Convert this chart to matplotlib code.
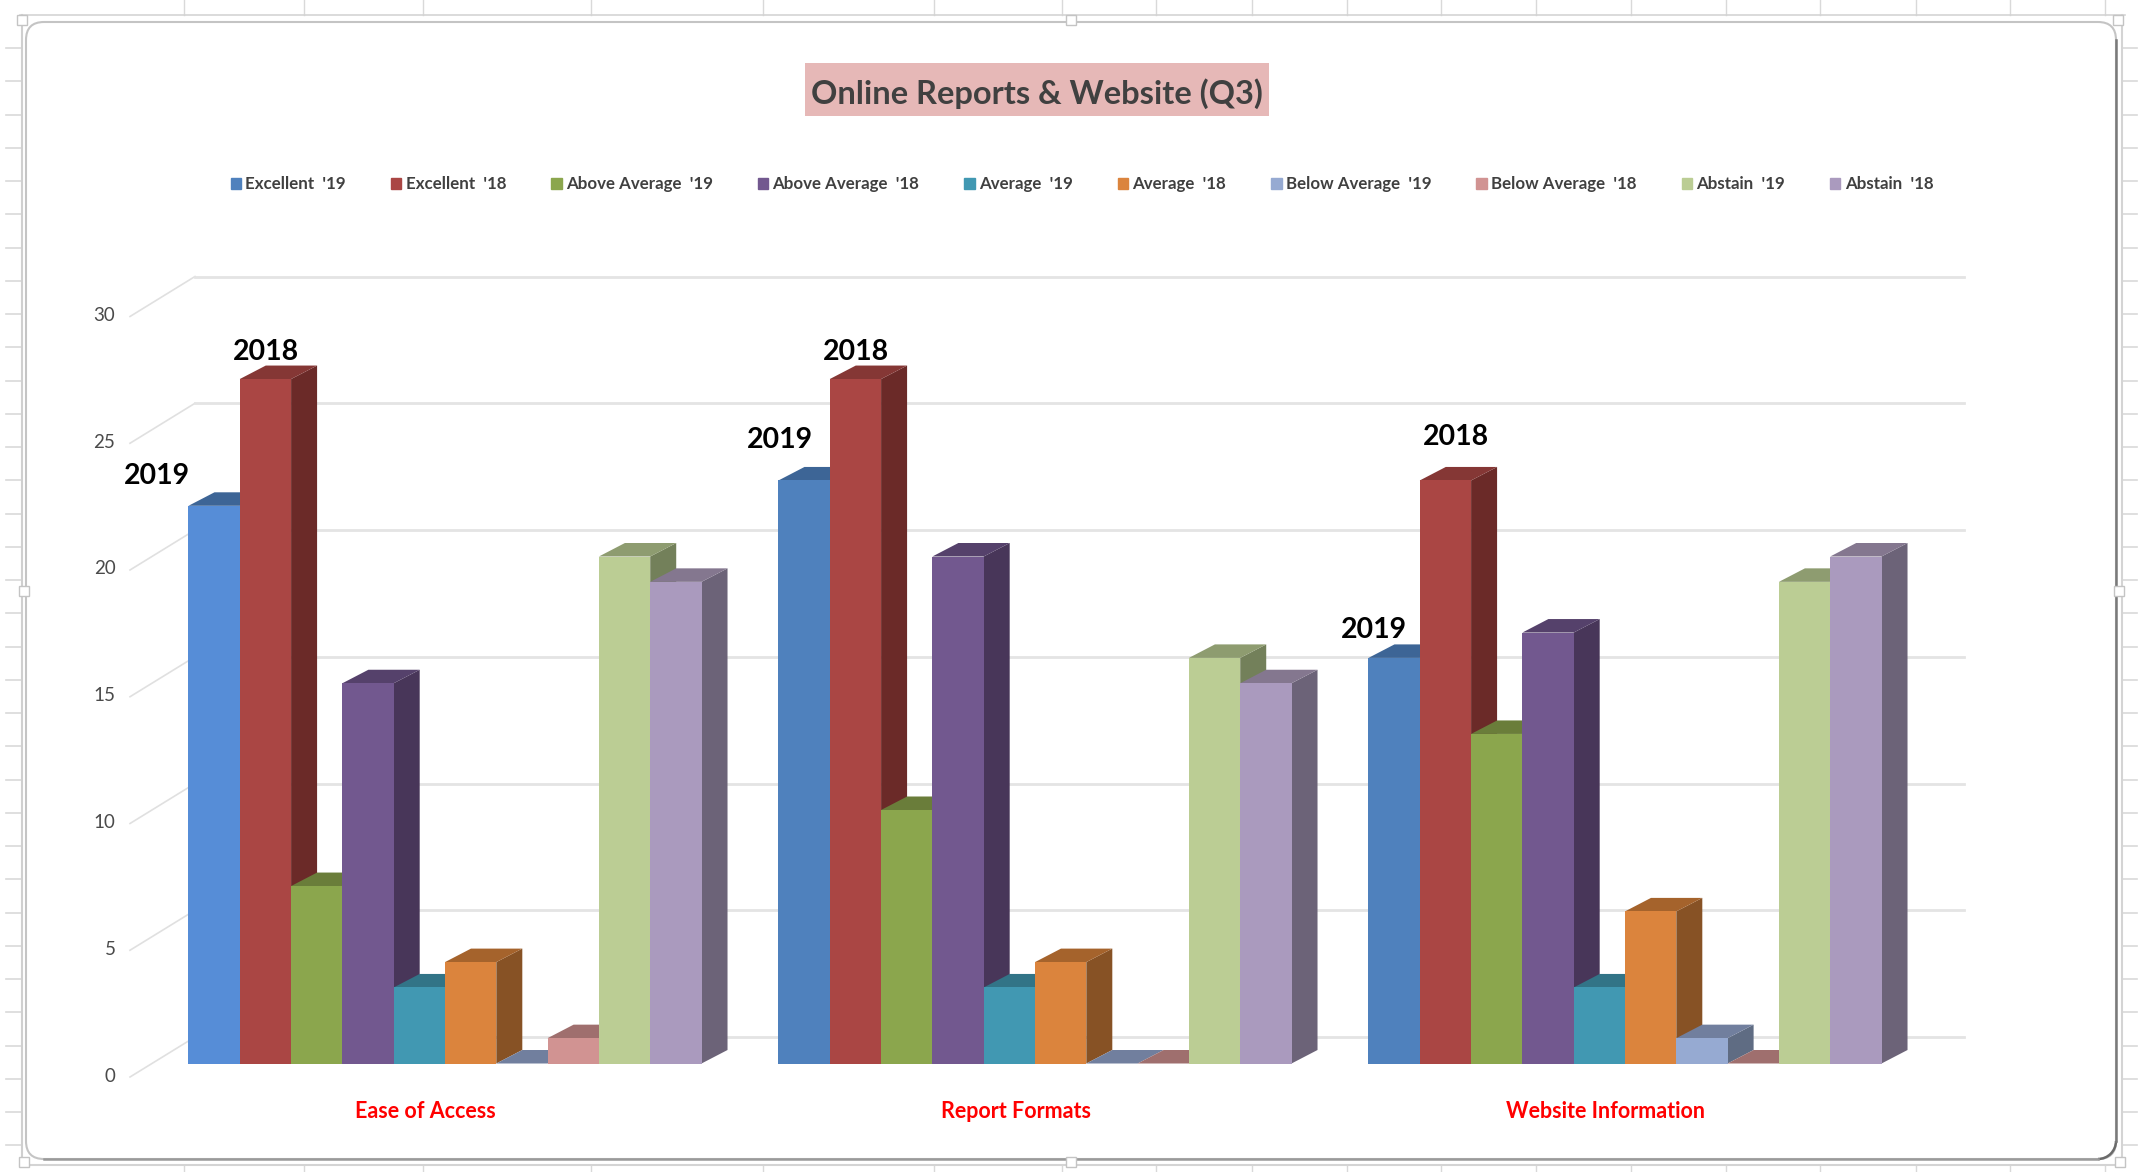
import matplotlib
matplotlib.use("Agg")
import matplotlib.pyplot as plt
from matplotlib.patches import FancyBboxPatch, Rectangle, Patch, Arc

# ---------- data ----------
categories = ["Ease of Access", "Report Formats", "Website Information"]
series = ["Excellent  '19", "Excellent  '18", "Above Average  '19", "Above Average  '18",
          "Average  '19", "Average  '18", "Below Average  '19", "Below Average  '18",
          "Abstain  '19", "Abstain  '18"]
excellent_19 = [22, 23, 16]
excellent_18 = [27, 27, 23]
above_19 = [7, 10, 13]
above_18 = [15, 20, 17]
average_19 = [3, 3, 3]
average_18 = [4, 4, 6]
below_19 = [0, 0, 1]
below_18 = [1, 0, 0]
abstain_19 = [20, 16, 19]
abstain_18 = [19, 15, 20]
values = [excellent_19, excellent_18, above_19, above_18, average_19, average_18,
          below_19, below_18, abstain_19, abstain_18]
y_ticks = [0, 5, 10, 15, 20, 25, 30]

front = ["#4F81BD", "#AA4644", "#8BA64D", "#72588F", "#4198B2", "#DB843D",
         "#96AAD2", "#D19392", "#BBCD94", "#AA9ABE"]
top = ["#3D6596", "#853735", "#6A7D3A", "#55416B", "#327487", "#A5632C",
       "#717F9E", "#9F6F6E", "#8E9C70", "#84778F"]
side = ["#2F4F75", "#6B2A28", "#556630", "#483659", "#285E6E", "#875225",
        "#5F6C83", "#7F5655", "#73805A", "#6C6378"]
first_group_blue = "#568DD7"

# ---------- layout helpers ----------
W, H = 2144, 1172
pitch = 590.0          # pixels per category
unit = 25.35           # pixels per value unit
base_y = 1063.5
cx0 = 445.0
L, R, B, T = 130, 1964, 1077, 250

plt.rcParams["font.family"] = ["Lato", "DejaVu Sans"]
fig = plt.figure(figsize=(W / 100, H / 100), dpi=100, facecolor="white")

# ---------- sheet / frame decoration ----------
bg = fig.add_axes([0, 0, 1, 1], zorder=0)
bg.set_xlim(0, W); bg.set_ylim(H, 0); bg.axis("off")
xt = [184, 304, 423, 591, 763, 934, 1062, 1156, 1252, 1347, 1441, 1536, 1631, 1726, 1820, 1916, 2010, 2105]
yt = [48 + 33.25 * i for i in range(34)]
for x in xt:
    bg.plot([x, x], [0, 15], color="#d9d9d9", lw=1)
    bg.plot([x, x], [1166, H], color="#d9d9d9", lw=1)
for y in yt:
    bg.plot([6, 21], [y, y], color="#d9d9d9", lw=1.2)
    bg.plot([2122, 2137], [y, y], color="#d9d9d9", lw=1.2)
bg.plot([20, 2125], [15, 15], color="#d4d4d4", lw=1.2)
bg.plot([20, 2125], [1165, 1165], color="#d4d4d4", lw=1.5)
bg.plot([22, 22], [15, 1165], color="#cfcfcf", lw=1.5)
bg.plot([2122, 2122], [15, 1165], color="#d4d4d4", lw=1.5)
bg.add_patch(FancyBboxPatch((26, 22), 2090, 1137, boxstyle="round,pad=0,rounding_size=18",
                            fc="white", ec="#c4c4c4", lw=1.5))
bg.plot([2116, 2116], [40, 1141], color="#7a7a7a", lw=1.8)
bg.plot([44, 2098], [1159, 1159], color="#9a9a9a", lw=1.8)
bg.add_patch(Arc((2098, 1141), 36, 36, theta1=0, theta2=90, color="#6a6a6a", lw=1.8))
for hx, hy in [(22, 20), (1071, 20), (2118, 20), (24, 591), (2119, 591), (24, 1162), (1071, 1162), (2120, 1162)]:
    bg.add_patch(Rectangle((hx - 5, hy - 5), 10, 10, fc="white", ec="#c4c4c4", lw=1, zorder=5))

# ---------- chart axes ----------
ax = fig.add_axes([L / W, 1 - B / H, (R - L) / W, (B - T) / H], zorder=1)
ax.patch.set_alpha(0)
ax.set_xlim((L - cx0) / pitch, (R - cx0) / pitch)
ax.set_ylim((base_y - B) / unit, (base_y - T) / unit)
for s in ax.spines.values():
    s.set_visible(False)

bar_w = 1 / 11.5
depth_x = 26.0 / pitch
depth_y = 13.5 / unit
front_off = (base_y - 1077) / unit
wall_off = (base_y - 1037) / unit
label_off = (base_y - 1074.5) / unit
x_left = (L - cx0) / pitch
x_wall = (195 - cx0) / pitch
x_right = (R - cx0) / pitch

for v in y_ticks:
    ax.plot([x_left, x_wall], [v + front_off, v + wall_off], color="#e0e0e0", lw=1.2, zorder=1, clip_on=False)
    ax.plot([x_wall, x_right], [v + wall_off, v + wall_off], color="#e4e4e4", lw=2.0, zorder=1, clip_on=False)

ax.set_yticks([v + label_off for v in y_ticks], [str(v) for v in y_ticks],
              fontsize=13.5, color="#4a4a4a")
ax.tick_params(axis="y", length=0, pad=10.5)
ax.set_xticks([g - 0.0325 for g in range(len(categories))], categories,
              fontsize=15.5, fontweight="bold", color="#ff0000")
ax.tick_params(axis="x", length=0, pad=17)

z = 2
for g in range(len(categories)):
    for j, vals in enumerate(values):
        v = vals[g]
        x0 = g + (j - 5) * bar_w
        x1 = x0 + bar_w
        fc = first_group_blue if (g == 0 and j == 0) else front[j]
        ax.fill([x1, x1 + depth_x, x1 + depth_x, x1],
                [0, depth_y, v + depth_y, v], color=side[j], lw=0, zorder=z)
        ax.fill([x0, x0 + depth_x, x1 + depth_x, x1],
                [v, v + depth_y, v + depth_y, v], color=top[j], lw=0, zorder=z)
        if v > 0:
            ax.bar(x0, v, width=bar_w, align="edge", color=fc, lw=0, zorder=z + 0.5)
        z += 1

# year call-outs above the bars
year_notes = [("2019", 0, -0.489, 23.19), ("2018", 0, -0.3035, 28.07),
              ("2019", 1, -0.432, 24.61), ("2018", 1, -0.303, 28.06),
              ("2019", 2, -0.425, 17.11), ("2018", 2, -0.286, 24.71)]
for txt, g, dx, y in year_notes:
    ax.text(g + dx, y, txt, fontsize=20.5, fontweight="bold", color="black",
            ha="center", va="center", zorder=200)

# title
bg.add_patch(Rectangle((805, 63), 464, 53, fc="#E6B8B7", ec="none", zorder=4))
fig.text(1037 / W, 1 - 93.5 / H, "Online Reports & Website (Q3)", fontsize=23.5, fontweight="bold",
         color="#404040", ha="center", va="center", zorder=5)

# legend
handles = [Patch(color=c, label=s) for c, s in zip(front, series)]
leg = fig.legend(handles=handles, loc="center", bbox_to_anchor=(1082 / W, 1 - 184 / H), ncols=10,
                 frameon=False, fontsize=12.2, handlelength=0.62, handleheight=0.62,
                 handletextpad=0.25, columnspacing=2.65, borderpad=0)
for t in leg.get_texts():
    t.set_color("#404040")
    t.set_fontweight("bold")

fig.savefig("out.png", dpi=100, facecolor="white")
